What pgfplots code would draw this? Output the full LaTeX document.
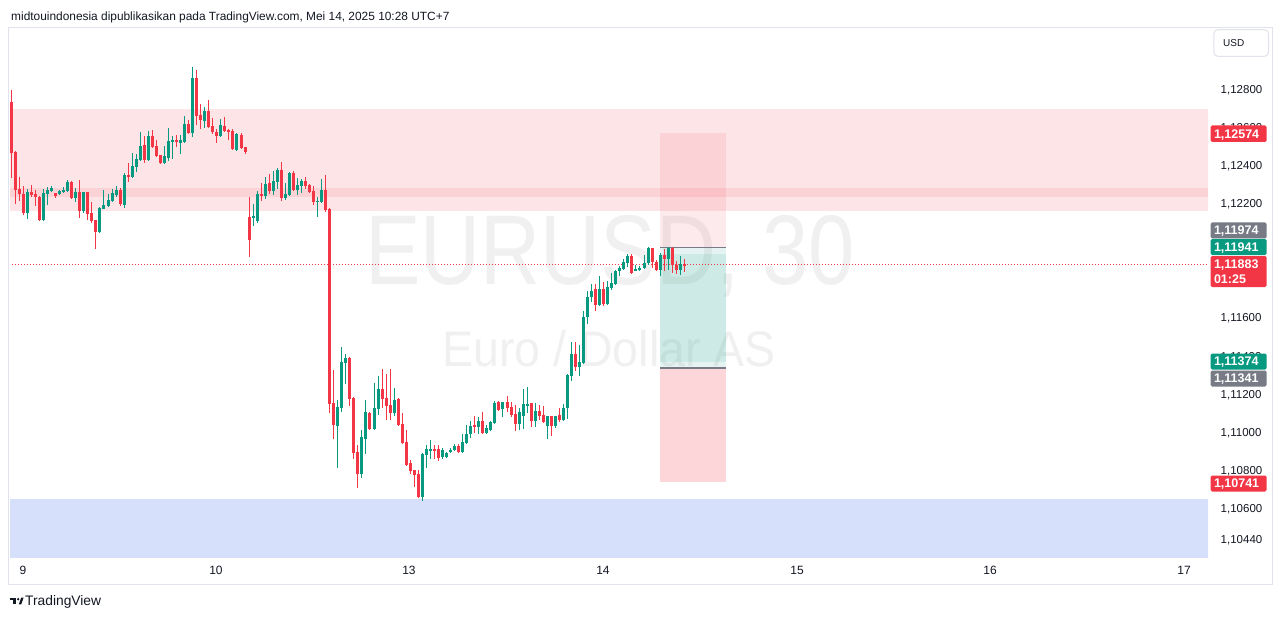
\documentclass[border=0pt]{standalone}
\usepackage{pgfplots}
\pgfplotsset{compat=1.18}
\usepackage{pgfplotstable}
\usepackage{fontspec}
\setmainfont{Liberation Sans}
\definecolor{tvred}{HTML}{F23645}
\definecolor{tvgreen}{HTML}{089981}
\definecolor{tvgray}{HTML}{787B86}
\definecolor{tvtext}{HTML}{131722}
\definecolor{tvblue}{HTML}{D6E0FB}
\definecolor{tvframe}{HTML}{E0E3EB}

% rising candles: index, open, high, low, close
\pgfplotstableread{
i o h l c
5 1.12154 1.12281 1.12123 1.12265
9 1.12118 1.12281 1.12113 1.12259
10 1.12254 1.12291 1.12197 1.12275
11 1.12270 1.12297 1.12265 1.12286
13 1.12254 1.12273 1.12251 1.12270
14 1.12265 1.12291 1.12259 1.12275
15 1.12270 1.12328 1.12266 1.12318
17 1.12233 1.12286 1.12212 1.12265
19 1.12165 1.12268 1.12154 1.12265
23 1.12055 1.12186 1.12052 1.12181
24 1.12176 1.12275 1.12173 1.12197
25 1.12192 1.12254 1.12186 1.12223
26 1.12218 1.12281 1.12215 1.12259
27 1.12249 1.12297 1.12238 1.12275
29 1.12197 1.12364 1.12181 1.12354
31 1.12343 1.12469 1.12340 1.12402
32 1.12396 1.12464 1.12370 1.12438
33 1.12433 1.12580 1.12430 1.12506
35 1.12433 1.12585 1.12430 1.12559
39 1.12417 1.12506 1.12414 1.12454
40 1.12443 1.12601 1.12428 1.12533
41 1.12533 1.12559 1.12438 1.12538
43 1.12522 1.12564 1.12464 1.12538
44 1.12527 1.12664 1.12524 1.12622
46 1.12574 1.12921 1.12553 1.12863
49 1.12638 1.12711 1.12601 1.12690
53 1.12559 1.12648 1.12556 1.12616
57 1.12485 1.12572 1.12480 1.12569
61 1.12134 1.12202 1.12086 1.12139
62 1.12113 1.12270 1.12102 1.12254
64 1.12244 1.12343 1.12228 1.12307
66 1.12270 1.12375 1.12249 1.12323
67 1.12318 1.12391 1.12281 1.12380
69 1.12233 1.12312 1.12223 1.12254
70 1.12249 1.12370 1.12246 1.12364
72 1.12275 1.12338 1.12249 1.12302
73 1.12297 1.12333 1.12259 1.12323
77 1.12212 1.12238 1.12134 1.12218
78 1.12212 1.12333 1.12209 1.12275
82 1.11037 1.11173 1.10817 1.11136
83 1.11131 1.11451 1.11110 1.11373
84 1.11367 1.11415 1.11257 1.11394
88 1.10785 1.11016 1.10764 1.10980
89 1.10969 1.11173 1.10890 1.11110
91 1.11021 1.11262 1.11018 1.11131
92 1.11126 1.11299 1.11095 1.11231
96 1.11105 1.11236 1.11089 1.11173
103 1.10664 1.10895 1.10644 1.10890
104 1.10885 1.10938 1.10817 1.10917
105 1.10911 1.10964 1.10864 1.10917
108 1.10874 1.10922 1.10864 1.10911
109 1.10874 1.10901 1.10871 1.10895
110 1.10901 1.10922 1.10898 1.10911
111 1.10911 1.10943 1.10906 1.10933
113 1.10901 1.10995 1.10898 1.10954
114 1.10948 1.11042 1.10945 1.10995
115 1.10995 1.11063 1.10974 1.11037
117 1.11032 1.11084 1.10995 1.11063
119 1.11000 1.11042 1.10995 1.11026
120 1.11016 1.11061 1.11013 1.11058
121 1.11052 1.11168 1.11050 1.11157
123 1.11126 1.11166 1.11084 1.11163
127 1.11047 1.11131 1.11016 1.11110
128 1.11089 1.11231 1.11021 1.11152
129 1.11147 1.11241 1.11105 1.11152
131 1.11063 1.11157 1.11032 1.11116
134 1.11037 1.11092 1.10969 1.11089
136 1.11037 1.11092 1.11026 1.11089
138 1.11068 1.11152 1.11065 1.11131
139 1.11131 1.11310 1.11074 1.11304
140 1.11299 1.11478 1.11273 1.11415
142 1.11346 1.11462 1.11299 1.11373
143 1.11367 1.11641 1.11364 1.11609
144 1.11609 1.11746 1.11572 1.11714
145 1.11714 1.11782 1.11688 1.11746
147 1.11672 1.11824 1.11667 1.11756
149 1.11677 1.11798 1.11674 1.11766
150 1.11761 1.11840 1.11751 1.11787
151 1.11782 1.11855 1.11779 1.11851
152 1.11851 1.11877 1.11824 1.11866
153 1.11861 1.11913 1.11858 1.11898
154 1.11892 1.11939 1.11871 1.11929
156 1.11856 1.11882 1.11853 1.11861
157 1.11861 1.11877 1.11851 1.11866
158 1.11866 1.11934 1.11863 1.11892
159 1.11892 1.11974 1.11882 1.11971
162 1.11856 1.11945 1.11824 1.11934
164 1.11913 1.11976 1.11856 1.11971
167 1.11856 1.11929 1.11830 1.11887
}\upc

% falling candles: index, open, high, low, close
\pgfplotstableread{
i o h l c
1 1.12738 1.12800 1.12338 1.12469
2 1.12475 1.12480 1.12202 1.12275
3 1.12281 1.12343 1.12218 1.12254
4 1.12254 1.12297 1.12144 1.12154
6 1.12265 1.12302 1.12238 1.12249
7 1.12254 1.12275 1.12192 1.12238
8 1.12238 1.12243 1.12113 1.12118
12 1.12259 1.12262 1.12233 1.12244
16 1.12318 1.12323 1.12230 1.12233
18 1.12265 1.12328 1.12128 1.12165
20 1.12265 1.12268 1.12118 1.12149
21 1.12154 1.12212 1.12102 1.12113
22 1.12118 1.12121 1.11966 1.12055
28 1.12275 1.12286 1.12192 1.12202
30 1.12354 1.12417 1.12318 1.12343
34 1.12511 1.12559 1.12417 1.12433
36 1.12559 1.12590 1.12498 1.12501
37 1.12506 1.12538 1.12449 1.12454
38 1.12459 1.12462 1.12414 1.12417
42 1.12538 1.12564 1.12501 1.12527
45 1.12622 1.12643 1.12571 1.12574
47 1.12863 1.12905 1.12616 1.12664
48 1.12669 1.12727 1.12595 1.12643
50 1.12690 1.12748 1.12603 1.12606
51 1.12611 1.12653 1.12569 1.12580
52 1.12580 1.12595 1.12522 1.12559
54 1.12611 1.12659 1.12580 1.12585
55 1.12590 1.12595 1.12538 1.12585
56 1.12585 1.12595 1.12487 1.12490
58 1.12564 1.12574 1.12493 1.12496
59 1.12501 1.12504 1.12464 1.12475
60 1.12134 1.12238 1.11924 1.12013
63 1.12254 1.12312 1.12218 1.12249
65 1.12312 1.12359 1.12254 1.12270
68 1.12380 1.12422 1.12218 1.12233
71 1.12364 1.12375 1.12270 1.12275
74 1.12323 1.12343 1.12281 1.12297
75 1.12302 1.12307 1.12259 1.12265
76 1.12270 1.12297 1.12197 1.12212
79 1.12275 1.12354 1.12160 1.12170
80 1.12176 1.12181 1.11105 1.11152
81 1.11157 1.11331 1.10969 1.11042
85 1.11394 1.11399 1.11141 1.11178
86 1.11184 1.11188 1.10864 1.10895
87 1.10901 1.10938 1.10712 1.10785
90 1.11105 1.11110 1.11016 1.11021
93 1.11231 1.11336 1.11131 1.11178
94 1.11184 1.11310 1.11068 1.11141
95 1.11147 1.11336 1.11068 1.11105
97 1.11178 1.11184 1.11040 1.11042
98 1.11047 1.11105 1.10943 1.10948
99 1.10954 1.11016 1.10830 1.10833
100 1.10843 1.10859 1.10785 1.10801
101 1.10806 1.10810 1.10717 1.10780
102 1.10785 1.10806 1.10661 1.10664
106 1.10917 1.10938 1.10864 1.10911
107 1.10917 1.10938 1.10854 1.10869
112 1.10933 1.10943 1.10895 1.10901
116 1.11042 1.11089 1.11000 1.11032
118 1.11063 1.11110 1.10997 1.11000
122 1.11163 1.11168 1.11116 1.11121
124 1.11163 1.11194 1.11110 1.11131
125 1.11136 1.11163 1.11084 1.11095
126 1.11100 1.11147 1.11011 1.11047
130 1.11157 1.11160 1.11032 1.11063
132 1.11116 1.11147 1.11068 1.11089
133 1.11095 1.11141 1.11055 1.11058
135 1.11089 1.11092 1.10985 1.11037
137 1.11095 1.11131 1.11058 1.11068
141 1.11415 1.11478 1.11325 1.11346
146 1.11756 1.11782 1.11641 1.11672
148 1.11756 1.11793 1.11667 1.11677
155 1.11929 1.11939 1.11835 1.11840
160 1.11971 1.11974 1.11866 1.11898
161 1.11898 1.11908 1.11851 1.11856
163 1.11934 1.11966 1.11851 1.11913
165 1.11971 1.11976 1.11840 1.11882
166 1.11882 1.11903 1.11835 1.11856
168 1.11887 1.11913 1.11845 1.11883
}\dnc

\pgfplotsset{
  wick/.style={forget plot, draw=none, mark=none,
    error bars/.cd, y dir=both, y explicit, error mark=none,
    error bar style={draw=#1, line width=1pt}},
  body/.style={forget plot, draw=none, mark=none,
    error bars/.cd, y dir=both, y explicit, error mark=none,
    error bar style={draw=#1, line width=3pt}},
}

\begin{document}
\begin{tikzpicture}
\fill[white] (0pt,0pt) rectangle (1281pt,-620pt);
\begin{scope}[x=1pt,y=-1pt]
  % watermark
  \node[anchor=base, inner sep=0pt, text=tvgray, text opacity=0.11] at (610,284)
    {\fontsize{99}{99}\selectfont\scalebox{0.84}[1]{EURUSD, 30}};
  \node[anchor=base, inner sep=0pt, text=tvgray, text opacity=0.11] at (609,366)
    {\fontsize{50}{50}\selectfont\scalebox{0.93}[1]{Euro / Dollar AS}};
\end{scope}

\begin{axis}[
  at={(10pt,-557pt)}, anchor=south west,
  width=1198pt, height=529pt, scale only axis,
  xmin=0.677, xmax=297.95,
  ymin=1.103497, ymax=1.131253,
  axis line style={draw=none},
  tick style={draw=none},
  major tick length=0pt,
  xtick={3.90,51.79,99.68,147.82,195.96,243.85,291.99},
  xticklabels={9,10,13,14,15,16,17},
  xticklabel style={anchor=center, yshift=-13.8pt, font=\fontsize{12}{12}\selectfont, text=tvtext},
  ytick={1.128,1.126,1.124,1.122,1.116,1.114,1.112,1.110,1.108,1.106,1.1044},
  yticklabel pos=right,
  scaled y ticks=false,
  /pgf/number format/assume math mode=true,
  yticklabel style={anchor=west, inner sep=0pt, xshift=12.5pt,
    font=\fontsize{11.5}{12}\selectfont, text=tvtext,
    /pgf/number format/.cd, fixed, fixed zerofill, precision=5, use comma, assume math mode=true},
]
% supply / demand zones
\addplot[forget plot, draw=none, fill=tvred, fill opacity=0.13]
  coordinates {(-10,1.12700) (310,1.12700) (310,1.12167) (-10,1.12167)} -- cycle;
\addplot[forget plot, draw=none, fill=tvred, fill opacity=0.10]
  coordinates {(-10,1.12286) (310,1.12286) (310,1.12240) (-10,1.12240)} -- cycle;
\addplot[forget plot, draw=none, fill=tvblue]
  coordinates {(-10,1.10654) (310,1.10654) (310,1.1030) (-10,1.1030)} -- cycle;
% short position
\addplot[forget plot, draw=none, fill=tvred, fill opacity=0.10]
  coordinates {(161.97,1.12574) (178.35,1.12574) (178.35,1.11974) (161.97,1.11974)} -- cycle;
\addplot[forget plot, draw=none, fill=tvgreen, fill opacity=0.10]
  coordinates {(161.97,1.11974) (178.35,1.11974) (178.35,1.11374) (161.97,1.11374)} -- cycle;
% long position
\addplot[forget plot, draw=none, fill=tvgreen, fill opacity=0.10]
  coordinates {(161.97,1.11941) (178.35,1.11941) (178.35,1.11341) (161.97,1.11341)} -- cycle;
\addplot[forget plot, draw=none, fill=tvred, fill opacity=0.20]
  coordinates {(161.97,1.11341) (178.35,1.11341) (178.35,1.10741) (161.97,1.10741)} -- cycle;
\addplot[forget plot, tvgray, line width=1.2pt] coordinates {(161.97,1.11974) (178.35,1.11974)};
\addplot[forget plot, tvgray, line width=1.2pt] coordinates {(161.97,1.11341) (178.35,1.11341)};
% last price line
\addplot[forget plot, tvred, line width=1pt, dash pattern=on 1pt off 2pt]
  coordinates {(-10,1.11883) (310,1.11883)};
% candles
\addplot[wick=tvgreen] table[x=i, y expr={(\thisrow{h}+\thisrow{l})/2}, y error expr={(\thisrow{h}-\thisrow{l})/2}] {\upc};
\addplot[body=tvgreen] table[x=i, y expr={(\thisrow{o}+\thisrow{c})/2}, y error expr={abs(\thisrow{c}-\thisrow{o})/2}] {\upc};
\addplot[wick=tvred] table[x=i, y expr={(\thisrow{h}+\thisrow{l})/2}, y error expr={(\thisrow{h}-\thisrow{l})/2}] {\dnc};
\addplot[body=tvred] table[x=i, y expr={(\thisrow{o}+\thisrow{c})/2}, y error expr={abs(\thisrow{c}-\thisrow{o})/2}] {\dnc};
\end{axis}

\begin{scope}[x=1pt,y=-1pt]
  % frame
  \draw[tvframe, line width=1pt] (8.5,27.5) rectangle (1272,584);
  % title
  \node[anchor=base west, inner sep=0pt, text=tvtext, font=\fontsize{11.9}{12}\selectfont] at (11,20.5)
    {midtouindonesia dipublikasikan pada TradingView.com, Mei 14, 2025 10:28 UTC+7};
  % USD box
  \draw[tvframe, line width=1pt, rounded corners=4pt, fill=white] (1213.8,29.7) rectangle (1268.5,56.3);
  \node[anchor=west, inner sep=0pt, text=tvtext, font=\fontsize{10}{10}\selectfont] at (1223,43) {USD};
  % price labels
  \tikzset{plab/.style={anchor=west, inner sep=0pt, text=white, text height=8.6pt, text depth=0pt,
     font=\fontsize{12.5}{13}\selectfont\bfseries}}
  \fill[tvred, rounded corners=1.5pt] (1210.5,125.5) rectangle (1266.5,142);
  \node[plab] at (1213.8,133.75) {1,12574};
  \fill[tvgray, rounded corners=1.5pt] (1210.5,222.5) rectangle (1266.5,238.5);
  \node[plab] at (1213.8,230.5) {1,11974};
  \fill[tvgreen, rounded corners=1.5pt] (1210.5,239) rectangle (1266.5,255);
  \node[plab] at (1213.8,247) {1,11941};
  \fill[tvred, rounded corners=1.5pt] (1210.5,256) rectangle (1266.5,287);
  \node[plab] at (1213.8,264) {1,11883};
  \node[plab] at (1213.8,279) {01:25};
  \fill[tvgreen, rounded corners=1.5pt] (1210.5,353.5) rectangle (1266.5,369.5);
  \node[plab] at (1213.8,361.5) {1,11374};
  \fill[tvgray, rounded corners=1.5pt] (1210.5,370.5) rectangle (1266.5,386.5);
  \node[plab] at (1213.8,378.5) {1,11341};
  \fill[tvred, rounded corners=1.5pt] (1210.5,475.5) rectangle (1266.5,491.5);
  \node[plab] at (1213.8,483.5) {1,10741};
  % TradingView logo
  \fill[tvtext] (10,597.7) rectangle (16.2,600.4);
  \fill[tvtext] (13.4,597.7) rectangle (16.2,604.4);
  \fill[tvtext] (18.2,599.2) circle (1.3);
  \fill[tvtext] (18.8,604.4) -- (21.2,597.7) -- (23.6,597.7) -- (21.2,604.4) -- cycle;
  \node[anchor=base west, inner sep=0pt, text=tvtext, font=\fontsize{13.8}{14}\selectfont] at (25,605.5) {TradingView};
\end{scope}
\pgfresetboundingbox
\path[use as bounding box] (0pt,0pt) rectangle (1281pt,-620pt);
\end{tikzpicture}
\end{document}
